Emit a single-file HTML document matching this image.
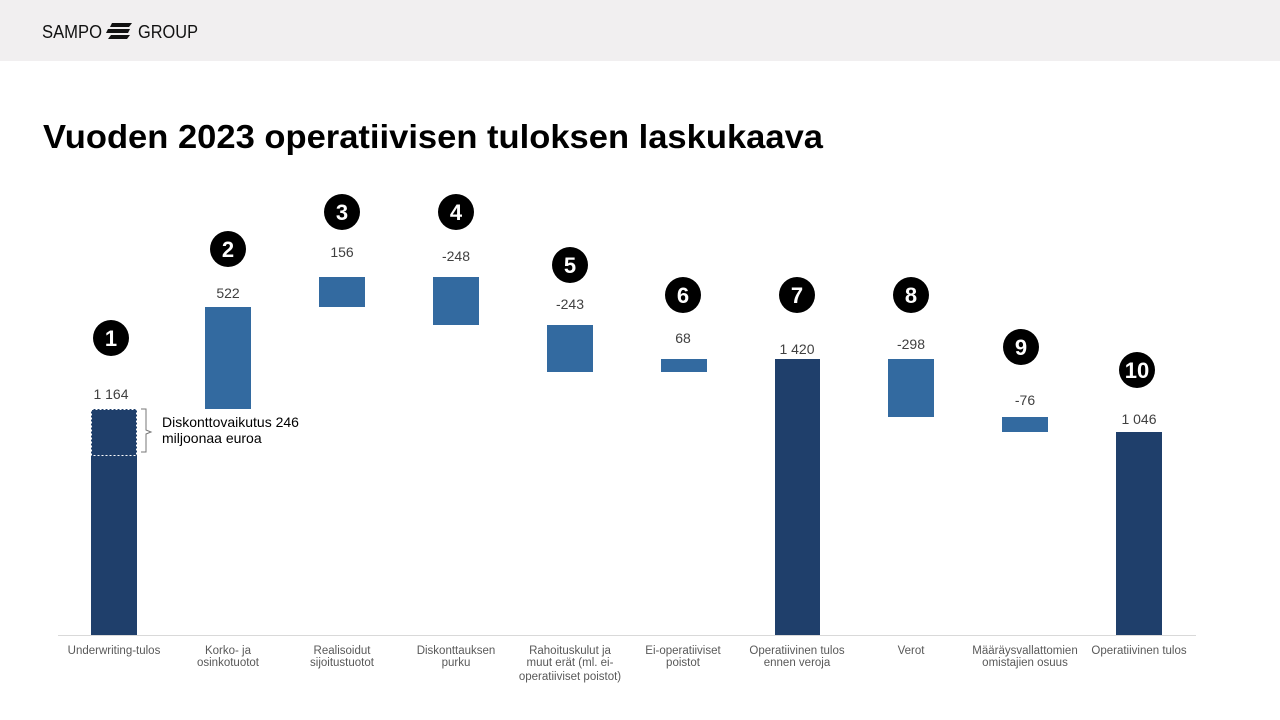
<!DOCTYPE html>
<html><head><meta charset="utf-8"><style>
body{margin:0;width:1280px;height:720px;background:#fff;overflow:hidden;font-family:"Liberation Sans",Arial,sans-serif}
</style></head><body>
<svg width="1280" height="720" xmlns="http://www.w3.org/2000/svg" style="position:absolute;left:0;top:0">
<rect x="0" y="0" width="1280" height="61" fill="#f1eff0"/>
<text x="42" y="38" font-family="Liberation Sans, sans-serif" font-size="18" fill="#111" textLength="60" lengthAdjust="spacingAndGlyphs">SAMPO</text>
<g fill="#111">
<path d="M112 23 L132 23 L129 27 L110 27 Z"/>
<path d="M108 29 L130 29 L128 33 L106 33 Z"/>
<path d="M111 35 L130 35 L127 39 L108 39 Z"/>
</g>
<text x="138" y="38" font-family="Liberation Sans, sans-serif" font-size="18" fill="#111" textLength="60" lengthAdjust="spacingAndGlyphs">GROUP</text>
<text x="43" y="148" font-family="Liberation Sans, sans-serif" font-weight="bold" font-size="33" fill="#000" textLength="780" lengthAdjust="spacingAndGlyphs">Vuoden 2023 operatiivisen tuloksen laskukaava</text>
<line x1="58" y1="635.5" x2="1196" y2="635.5" stroke="#d9d9d9" stroke-width="1"/>
<g>
<rect x="91" y="409" width="46" height="226" fill="#1f3f6b"/>
<rect x="91.5" y="409.5" width="45" height="46" fill="none" stroke="#fff" stroke-width="1" stroke-dasharray="2,2"/>
<rect x="205" y="307" width="46" height="102" fill="#336aa0"/>
<rect x="319" y="277" width="46" height="30" fill="#336aa0"/>
<rect x="433" y="277" width="46" height="48" fill="#336aa0"/>
<rect x="547" y="325" width="46" height="47" fill="#336aa0"/>
<rect x="661" y="359" width="46" height="13" fill="#336aa0"/>
<rect x="775" y="359" width="45" height="276" fill="#1f3f6b"/>
<rect x="888" y="359" width="46" height="58" fill="#336aa0"/>
<rect x="1002" y="417" width="46" height="15" fill="#336aa0"/>
<rect x="1116" y="432" width="46" height="203" fill="#1f3f6b"/>
</g>
<path d="M141 409 L146 409 L146 430 L151 432 L146 434 L146 452 L141 452" fill="none" stroke="#777" stroke-width="1"/>
<g font-family="Liberation Sans, sans-serif" font-size="14" fill="#000">
<text x="162" y="427">Diskonttovaikutus 246</text>
<text x="162" y="443">miljoonaa euroa</text>
</g>
<g font-family="Liberation Sans, sans-serif" font-size="14" fill="#404040" text-anchor="middle">
<text x="111" y="399">1 164</text>
<text x="228" y="298">522</text>
<text x="342" y="257">156</text>
<text x="456" y="261">-248</text>
<text x="570" y="309">-243</text>
<text x="683" y="343">68</text>
<text x="797" y="354">1 420</text>
<text x="911" y="349">-298</text>
<text x="1025" y="405">-76</text>
<text x="1139" y="424">1 046</text>
</g>
<g fill="#000">
<circle cx="111" cy="338" r="18"/><circle cx="228" cy="249" r="18"/><circle cx="342" cy="212" r="18"/><circle cx="456" cy="212" r="18"/><circle cx="570" cy="265" r="18"/><circle cx="683" cy="295" r="18"/><circle cx="797" cy="295" r="18"/><circle cx="911" cy="295" r="18"/><circle cx="1021" cy="347" r="18"/><circle cx="1137" cy="370" r="18"/>
</g>
<g font-family="Liberation Sans, sans-serif" font-size="22" font-weight="bold" fill="#fff" text-anchor="middle">
<text x="111" y="346">1</text><text x="228" y="257">2</text><text x="342" y="220">3</text><text x="456" y="220">4</text><text x="570" y="273">5</text><text x="683" y="303">6</text><text x="797" y="303">7</text><text x="911" y="303">8</text><text x="1021" y="355">9</text><text x="1137" y="378">10</text>
</g>
<g font-family="Liberation Sans, sans-serif" font-size="11.5" fill="#595959" text-anchor="middle">
<text x="114" y="654">Underwriting-tulos</text>
<text x="228" y="654">Korko- ja</text><text x="228" y="666">osinkotuotot</text>
<text x="342" y="654">Realisoidut</text><text x="342" y="666">sijoitustuotot</text>
<text x="456" y="654">Diskonttauksen</text><text x="456" y="666">purku</text>
<text x="570" y="654">Rahoituskulut ja</text><text x="570" y="666">muut erät (ml. ei-</text><text x="570" y="680">operatiiviset poistot)</text>
<text x="683" y="654">Ei-operatiiviset</text><text x="683" y="666">poistot</text>
<text x="797" y="654">Operatiivinen tulos</text><text x="797" y="666">ennen veroja</text>
<text x="911" y="654">Verot</text>
<text x="1025" y="654">Määräysvallattomien</text><text x="1025" y="666">omistajien osuus</text>
<text x="1139" y="654">Operatiivinen tulos</text>
</g>
</svg>
</body></html>
